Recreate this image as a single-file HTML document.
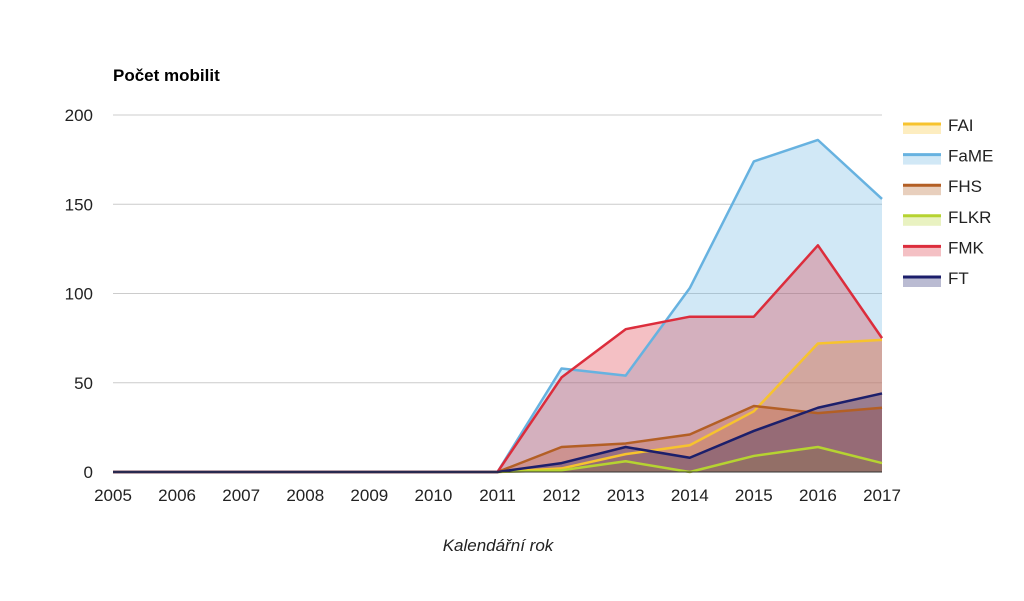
<!DOCTYPE html>
<html><head><meta charset="utf-8"><style>
body{margin:0;background:#fff;font-family:"Liberation Sans",Arial,sans-serif}
</style></head><body>
<svg id="chart" width="1024" height="596" xmlns="http://www.w3.org/2000/svg" font-family="Liberation Sans, Arial, sans-serif">
<text x="113" y="81" font-size="17" font-weight="bold" fill="#000">Počet mobilit</text>
<text x="498" y="551" font-size="17" font-style="italic" fill="#222" text-anchor="middle">Kalendářní rok</text>
<g id="grid"></g><g id="areas"></g><g id="lines"></g><g id="axes"></g><g id="legend"></g>
</svg>
<script>
const years=["2005","2006","2007","2008","2009","2010","2011","2012","2013","2014","2015","2016","2017"];
const yTicks=[0,50,100,150,200];
const seriesNames=["FAI","FaME","FHS","FLKR","FMK","FT"];
const seriesColors=["#f7c32e","#67b2e0","#b35f25","#b6d331","#dc2d3c","#1c1f6b"];
const fai=[0,0,0,0,0,0,0,2,10,15,34,72,74];
const fame=[0,0,0,0,0,0,0,58,54,103,174,186,153];
const fhs=[0,0,0,0,0,0,0,14,16,21,37,33,36];
const flkr=[0,0,0,0,0,0,0,1,6,0,9,14,5];
const fmk=[0,0,0,0,0,0,0,53,80,87,87,127,75];
const ft=[0,0,0,0,0,0,0,5,14,8,23,36,44];
const allSeries=[fai,fame,fhs,flkr,fmk,ft];
const NS="http://www.w3.org/2000/svg";
const x0=113,x1=882,y0=472,y1=115;
const xs=i=>x0+(x1-x0)*i/(years.length-1);
const ys=v=>y0-(y0-y1)*v/200;
function mk(tag,attrs,parent){const e=document.createElementNS(NS,tag);for(const k in attrs)e.setAttribute(k,attrs[k]);document.getElementById(parent).appendChild(e);return e;}
yTicks.forEach(t=>{
  if(t>0){const g=mk('line',{x1:x0,x2:x1,y1:ys(t),y2:ys(t),stroke:'#ccc','stroke-width':1},'grid');
  
  }
  const l=mk('text',{x:93,y:ys(t)+6,'font-size':17,'text-anchor':'end',fill:'#222'},'axes');
  l.textContent=t;
  
  
});
years.forEach((yr,i)=>{
  const l=mk('text',{x:xs(i),y:501,'font-size':17,'text-anchor':'middle',fill:'#222'},'axes');
  l.textContent=yr;
  
  
});
allSeries.forEach((s,k)=>{
  const pts=s.map((v,i)=>xs(i)+','+ys(v)).join(' ');
  const a=mk('polygon',{points:x0+','+y0+' '+pts+' '+x1+','+y0,fill:seriesColors[k],'fill-opacity':0.3},'areas');
  
  
  const p=mk('polyline',{points:pts,fill:'none',stroke:seriesColors[k],'stroke-width':2.5,'stroke-linejoin':'round'},'lines');
  
  
  const ly=124+k*30.6;
  const r=mk('rect',{x:903,y:ly,width:38,height:10,fill:seriesColors[k],'fill-opacity':0.3},'legend');
  
  
  const ll=mk('line',{x1:903,x2:941,y1:ly,y2:ly,stroke:seriesColors[k],'stroke-width':3},'legend');
  
  
  const t=mk('text',{x:948,y:ly+7,'font-size':17,fill:'#222'},'legend');
  t.textContent=seriesNames[k];
  
  
});
const ax=mk('line',{x1:x0,x2:x1,y1:y0,y2:y0,stroke:'#333','stroke-width':1},'axes');


</script>
</body></html>
